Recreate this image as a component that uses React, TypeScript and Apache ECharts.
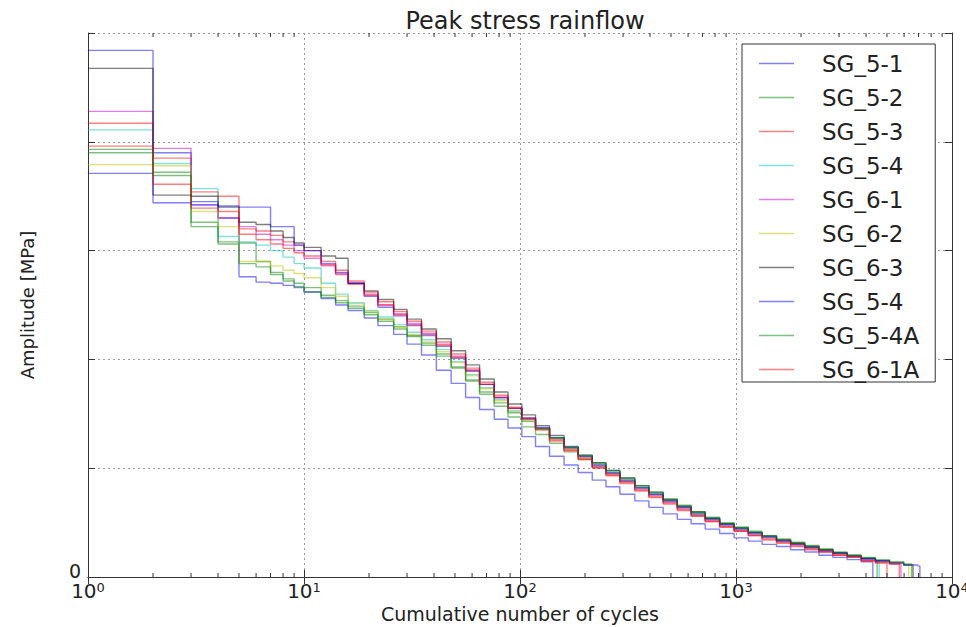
import React, { useEffect, useRef } from "react";
import * as echarts from "echarts";

// Cumulative number of cycles at which each amplitude step starts
const CYCLES = [1, 2, 3, 4, 5, 6, 7, 8, 9, 10, 12, 14, 16, 19, 22, 26, 30, 35, 41, 48, 56, 65, 76, 88, 102, 118, 137, 160, 186, 216, 250, 290, 340, 395, 460, 535, 620, 720, 840, 980, 1140, 1320, 1540, 1790, 2080, 2420, 2810, 3270, 3800, 4420, 5140, 5980, 6950];

// Amplitude of each step (grid units; one gridline = one unit)
const SG_5_1 = [4.84, 3.9, 3.45, 3.3, 2.76, 2.71, 2.7, 2.68, 2.66, 2.62,
  2.56, 2.5, 2.45, 2.38, 2.31, 2.23, 2.14, 2.04, 1.9, 1.78, 1.65, 1.54, 1.45, 1.37, 1.29,
  1.2, 1.11, 1.03, 0.96, 0.89, 0.83, 0.76, 0.7, 0.64, 0.58, 0.53, 0.49, 0.44, 0.4, 0.36,
  0.33, 0.3, 0.28, 0.25, 0.23, 0.2, 0.18, 0.16, 0.14];
const SG_5_2 = [3.93, 3.72, 3.26, 3.08, 3.07, 2.9, 2.8, 2.74, 2.7, 2.66,
  2.59, 2.54, 2.49, 2.43, 2.37, 2.3, 2.22, 2.15, 2.05, 1.93, 1.8, 1.68, 1.57, 1.47, 1.38,
  1.31, 1.23, 1.15, 1.08, 1.01, 0.95, 0.88, 0.82, 0.76, 0.7, 0.64, 0.59, 0.54, 0.49, 0.45,
  0.41, 0.37, 0.34, 0.31, 0.28, 0.25, 0.22, 0.19, 0.17, 0.15];
const SG_5_3 = [4.17, 3.85, 3.54, 3.5, 3.2, 3.18, 3.14, 3.08, 3.05, 3.0,
  2.9, 2.82, 2.72, 2.62, 2.53, 2.44, 2.35, 2.26, 2.16, 2.05, 1.92, 1.79, 1.67, 1.56, 1.46,
  1.36, 1.26, 1.17, 1.09, 1.01, 0.94, 0.87, 0.8, 0.74, 0.68, 0.62, 0.56, 0.51, 0.46, 0.42,
  0.38, 0.35, 0.32, 0.29, 0.26, 0.23, 0.2, 0.18, 0.15, 0.13];
const SG_5_4 = [4.11, 3.8, 3.57, 3.13, 3.08, 3.05, 3.0, 2.94, 2.88, 2.84,
  2.7, 2.6, 2.52, 2.45, 2.39, 2.32, 2.25, 2.18, 2.09, 1.98, 1.86, 1.74, 1.63, 1.53, 1.45,
  1.37, 1.28, 1.19, 1.11, 1.04, 0.97, 0.9, 0.83, 0.77, 0.71, 0.65, 0.59, 0.54, 0.49, 0.45,
  0.41, 0.37, 0.34, 0.31, 0.28, 0.25, 0.22, 0.19, 0.17, 0.15];
const SG_6_1 = [4.28, 3.94, 3.42, 3.3, 3.22, 3.15, 3.1, 3.05, 3.0, 2.93,
  2.86, 2.79, 2.7, 2.6, 2.5, 2.42, 2.33, 2.24, 2.14, 2.03, 1.9, 1.77, 1.65, 1.55, 1.46,
  1.37, 1.27, 1.18, 1.1, 1.02, 0.95, 0.88, 0.81, 0.75, 0.69, 0.63, 0.57, 0.52, 0.47, 0.43,
  0.39, 0.36, 0.33, 0.3, 0.27, 0.24, 0.21, 0.19, 0.16, 0.14, 0.12];
const SG_6_2 = [3.79, 3.78, 3.36, 3.22, 2.9, 2.9, 2.86, 2.82, 2.79, 2.75,
  2.66, 2.58, 2.51, 2.44, 2.37, 2.3, 2.23, 2.16, 2.07, 1.97, 1.85, 1.73, 1.62, 1.52, 1.44,
  1.36, 1.27, 1.18, 1.1, 1.03, 0.96, 0.89, 0.82, 0.76, 0.7, 0.64, 0.58, 0.53, 0.48, 0.44,
  0.4, 0.37, 0.34, 0.31, 0.28, 0.25, 0.22, 0.19, 0.17, 0.15, 0.13, 0.11];
const SG_6_3 = [4.675, 3.51, 3.5, 3.4, 3.26, 3.24, 3.18, 3.12, 3.07, 3.03,
  2.95, 2.93, 2.7, 2.63, 2.55, 2.46, 2.37, 2.28, 2.19, 2.08, 1.95, 1.82, 1.7, 1.59, 1.49,
  1.39, 1.3, 1.2, 1.12, 1.05, 0.98, 0.91, 0.84, 0.78, 0.71, 0.65, 0.6, 0.54, 0.49, 0.45,
  0.41, 0.38, 0.34, 0.31, 0.28, 0.25, 0.22, 0.2, 0.17, 0.15, 0.13, 0.11];
const SG_5_4B = [3.71, 3.44, 3.42, 3.41, 3.4, 3.4, 3.22, 3.22, 3.05, 3.0,
  2.88, 2.8, 2.7, 2.58, 2.48, 2.4, 2.31, 2.22, 2.12, 2.01, 1.89, 1.77, 1.65, 1.55, 1.46,
  1.37, 1.28, 1.19, 1.11, 1.03, 0.96, 0.89, 0.82, 0.76, 0.7, 0.64, 0.58, 0.53, 0.48, 0.44,
  0.4, 0.37, 0.33, 0.3, 0.27, 0.24, 0.22, 0.19, 0.17, 0.15, 0.13, 0.11, 0.1];
const SG_5_4A = [3.9, 3.69, 3.22, 3.06, 2.88, 2.85, 2.78, 2.72, 2.67, 2.62,
  2.57, 2.52, 2.47, 2.41, 2.35, 2.28, 2.21, 2.13, 2.03, 1.92, 1.81, 1.7, 1.6, 1.51, 1.43,
  1.36, 1.28, 1.19, 1.12, 1.05, 0.98, 0.91, 0.84, 0.78, 0.72, 0.66, 0.6, 0.55, 0.5, 0.46,
  0.42, 0.38, 0.35, 0.32, 0.29, 0.26, 0.23, 0.2, 0.18, 0.16, 0.14, 0.12];
const SG_6_1A = [3.96, 3.61, 3.39, 3.36, 3.15, 3.1, 3.06, 3.02, 2.98, 2.95,
  2.87, 2.78, 2.69, 2.59, 2.5, 2.41, 2.32, 2.23, 2.13, 2.02, 1.9, 1.77, 1.65, 1.55, 1.45,
  1.35, 1.25, 1.16, 1.08, 1.0, 0.93, 0.86, 0.79, 0.73, 0.67, 0.61, 0.56, 0.51, 0.46, 0.42,
  0.38, 0.34, 0.31, 0.28, 0.25, 0.23, 0.2, 0.18, 0.15, 0.13, 0.12];

// Total cycles of each gauge (last step drops to 0 there)
const END_CYCLES = [4300, 4500, 5000, 4600, 5800, 6300, 6600, 7100, 6500, 5700];

const SERIES_NAMES = ["SG_5-1", "SG_5-2", "SG_5-3", "SG_5-4", "SG_6-1", "SG_6-2", "SG_6-3", "SG_5-4 ", "SG_5-4A", "SG_6-1A"];
const SERIES_VALUES = [SG_5_1, SG_5_2, SG_5_3, SG_5_4, SG_6_1, SG_6_2, SG_6_3, SG_5_4B, SG_5_4A, SG_6_1A];
const SERIES_COLORS = [
  "rgba(0,0,255,0.5)", "rgba(0,128,0,0.5)", "rgba(255,0,0,0.5)", "rgba(0,191,191,0.5)", "rgba(191,0,191,0.5)",
  "rgba(191,191,0,0.5)", "rgba(0,0,0,0.5)", "rgba(0,0,255,0.5)", "rgba(0,128,0,0.5)", "rgba(255,0,0,0.5)",
];

const MINOR_TICKS = [2, 3, 4, 5, 6, 7, 8, 9, 20, 30, 40, 50, 60, 70, 80, 90, 200, 300, 400, 500, 600, 700, 800, 900, 2000, 3000, 4000, 5000, 6000, 7000, 8000, 9000];

const FONT = "DejaVu Sans";
const FRAME = "#333";
const LEGEND_ICON = "path://M0,0H35V1.5H0Z";

export default function App() {
  const ref = useRef<HTMLDivElement>(null);

  useEffect(() => {
    if (!ref.current) return;
    const chart = echarts.init(ref.current, null, { renderer: "svg" });

    const lineSeries = SERIES_NAMES.map((name, i) => {
      const vals = SERIES_VALUES[i];
      const data: number[][] = vals.map((v, k) => [CYCLES[k], v]);
      data.push([END_CYCLES[i], 0]);
      return {
        name,
        type: "line",
        step: "end",
        data,
        symbol: "none",
        showSymbol: false,
        lineStyle: { color: SERIES_COLORS[i], width: 1.4 },
        itemStyle: { color: SERIES_COLORS[i] },
        xAxisIndex: 0,
        yAxisIndex: 0,
        z: 3,
      };
    });

    const xLabelFmt = (v: number) => "10{sup|" + Math.round(Math.log10(v)) + "}";

    const option: any = {
      animation: false,
      backgroundColor: "#fff",
      textStyle: { fontFamily: FONT },
      title: {
        text: "Peak stress rainflow",
        left: 520,
        textAlign: "center",
        top: 4,
        textStyle: { fontFamily: FONT, fontSize: 24, fontWeight: "normal", color: "#222" },
      },
      legend: {
        data: SERIES_NAMES.map((n) => ({ name: n, icon: LEGEND_ICON })),
        orient: "vertical",
        left: 742,
        top: 44,
        itemWidth: 35,
        itemHeight: 14,
        itemGap: 11,
        symbolKeepAspect: true,
        padding: [8, 16, 1, 17],
        backgroundColor: "#fff",
        borderColor: FRAME,
        borderWidth: 1,
        borderRadius: 0,
        selectedMode: false,
        textStyle: { fontFamily: FONT, fontSize: 23, color: "#222", padding: [0, 0, 0, 23] },
      },
      grid: { left: 88, right: 14, top: 33, bottom: 50, containLabel: false, outerBoundsMode: "none" },
      xAxis: [
        {
          type: "log",
          logBase: 10,
          min: 1,
          max: 10000,
          position: "bottom",
          name: "Cumulative number of cycles",
          nameLocation: "middle",
          nameGap: 27,
          nameMoveOverlap: false,
          nameTextStyle: { fontFamily: FONT, fontSize: 19, color: "#222", verticalAlign: "top" },
          axisLine: { show: true, lineStyle: { color: FRAME, width: 1 } },
          axisTick: { show: true, inside: true, length: 7, lineStyle: { color: FRAME } },
          axisLabel: {
            formatter: xLabelFmt,
            margin: 4,
            color: "#222",
            fontFamily: FONT,
            fontSize: 20,
            lineHeight: 20,
            showMinLabel: true,
            showMaxLabel: true,
            rich: {
              sup: { fontSize: 13, fontFamily: FONT, color: "#222", padding: [0, 0, 7, 0] },
            },
          },
          splitLine: { show: true, lineStyle: { color: "#999", type: [2, 3], width: 1 } },
        },
        {
          type: "log",
          logBase: 10,
          min: 1,
          max: 10000,
          position: "top",
          axisLine: { show: true, lineStyle: { color: FRAME, width: 1 } },
          axisTick: { show: true, inside: true, length: 7, lineStyle: { color: FRAME } },
          axisLabel: { show: false },
          splitLine: { show: false },
        },
      ],
      yAxis: [
        {
          type: "value",
          min: 0,
          max: 5,
          interval: 1,
          position: "left",
          name: "Amplitude [MPa]",
          nameLocation: "middle",
          nameGap: 52,
          nameMoveOverlap: false,
          nameTextStyle: { fontFamily: FONT, fontSize: 18, color: "#222" },
          axisLine: { show: true, lineStyle: { color: FRAME, width: 1 } },
          axisTick: { show: true, inside: true, length: 7, lineStyle: { color: FRAME } },
          axisLabel: {
            formatter: (v: number) => (v === 0 ? "0" : ""),
            color: "#222",
            fontFamily: FONT,
            fontSize: 19,
            margin: 7,
            verticalAlign: "bottom",
            lineHeight: 12,
          },
          splitLine: { show: true, lineStyle: { color: "#999", type: [2, 3], width: 1 } },
        },
        {
          type: "value",
          min: 0,
          max: 5,
          interval: 1,
          position: "right",
          axisLine: { show: true, lineStyle: { color: FRAME, width: 1 } },
          axisTick: { show: true, inside: true, length: 7, lineStyle: { color: FRAME } },
          axisLabel: { show: false },
          splitLine: { show: false },
        },
      ],
      series: [
        ...lineSeries,
        {
          type: "custom",
          name: "minorTicks",
          xAxisIndex: 0,
          yAxisIndex: 0,
          silent: true,
          z: 5,
          data: MINOR_TICKS.map((v) => [v, 0]),
          renderItem: (params: any, api: any) => {
            const x = api.coord([api.value(0), 0])[0];
            const cs = params.coordSys;
            const bottom = cs.y + cs.height;
            const top = cs.y;
            return {
              type: "group",
              children: [
                { type: "line", shape: { x1: x, y1: bottom, x2: x, y2: bottom - 4 }, style: { stroke: FRAME, lineWidth: 1 } },
                { type: "line", shape: { x1: x, y1: top, x2: x, y2: top + 4 }, style: { stroke: FRAME, lineWidth: 1 } },
              ],
            };
          },
        },
      ],
    };

    chart.setOption(option);
    return () => chart.dispose();
  }, []);

  return <div ref={ref} style={{ width: 966, height: 627, position: "absolute", left: 0, top: 0 }} />;
}
